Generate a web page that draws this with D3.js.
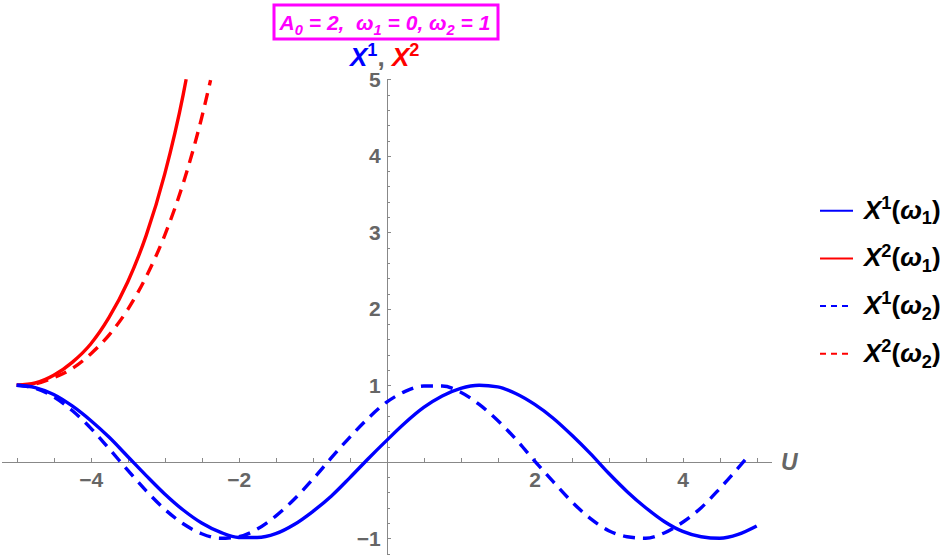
<!DOCTYPE html>
<meta charset="utf-8">
<title>X1, X2 vs U</title>
<style>

body {
  margin: 0;
  background: #fff;
  font-family: "Liberation Sans", Arial, sans-serif;
}

svg {
  display: block;
}

.axis path, .axis line {
  stroke: #888;
  shape-rendering: crispEdges;
}

.axis text {
  fill: #666;
  font-weight: bold;
  font-size: 21px;
  font-family: "Liberation Sans", Arial, sans-serif;
}

.rich {
  white-space: pre;
  font-weight: bold;
}

</style>

<body>
  <div id='graph'></div>
</body>

<script src="https://cdn.jsdelivr.net/npm/d3@7"></script>
<script>

// values
var x1w1U = [-5, -4.75, -4.5, -4.25, -4, -3.75, -3.5, -3.25, -3, -2.75, -2.5, -2.25, -2, -1.75, -1.5, -1.25, -1, -0.75, -0.5, -0.25, 0,
             0.25, 0.5, 0.75, 1, 1.25, 1.5, 1.75, 2, 2.25, 2.5, 2.75, 3, 3.25, 3.5, 3.75, 4, 4.25, 4.5, 4.75, 5];
var x1w1 = [1, 0.97, 0.88, 0.73, 0.54, 0.32, 0.07, -0.18, -0.42, -0.63, -0.8, -0.92, -0.99, -0.99, -0.94, -0.82, -0.65, -0.45, -0.21, 0.04, 0.28,
            0.51, 0.71, 0.86, 0.96, 1, 0.98, 0.89, 0.75, 0.57, 0.35, 0.11, -0.15, -0.39, -0.6, -0.78, -0.91, -0.98, -1, -0.95, -0.84];

var x1w2U = [-5, -4.75, -4.5, -4.25, -4, -3.75, -3.5, -3.25, -3, -2.75, -2.5, -2.25, -2, -1.75, -1.5, -1.25, -1, -0.75, -0.5, -0.25, 0,
             0.25, 0.5, 0.75, 1, 1.25, 1.5, 1.75, 2, 2.25, 2.5, 2.75, 3, 3.25, 3.5, 3.75, 4, 4.25, 4.5, 4.75, 4.9];
var x1w2 = [1, 0.96, 0.85, 0.67, 0.44, 0.17, -0.11, -0.38, -0.62, -0.81, -0.94, -1, -0.98, -0.88, -0.71, -0.49, -0.23, 0.05, 0.32, 0.57, 0.78,
            0.92, 0.99, 0.99, 0.91, 0.75, 0.54, 0.29, 0.01, -0.26, -0.52, -0.74, -0.9, -0.98, -1, -0.93, -0.79, -0.6, -0.35, -0.08, 0.09];

var x2w1U = [-5, -4.75, -4.5, -4.25, -4, -3.75, -3.5, -3.25, -3, -2.75, -2.71];
var x2w1 = [1, 1.03, 1.13, 1.3, 1.54, 1.89, 2.35, 2.96, 3.76, 4.8, 5];

var x2w2U = [-5, -4.75, -4.5, -4.25, -4, -3.75, -3.5, -3.25, -3, -2.75, -2.5, -2.38];
var x2w2 = [1, 1.02, 1.1, 1.22, 1.41, 1.66, 1.99, 2.42, 2.96, 3.64, 4.5, 4.99];

var xTickLabels = [-4, -2, 2, 4];
var yTickLabels = [-1, 1, 2, 3, 4, 5];

var legendNames = [
  {sup: '1', sub: '1', color: 'blue', dash: null},
  {sup: '2', sub: '1', color: 'red', dash: null},
  {sup: '1', sub: '2', color: 'blue', dash: '6 5'},
  {sup: '2', sub: '2', color: 'red', dash: '6 5'}
];

var width = 948, height = 556;

var svg = d3.select('#graph').append('svg')
  .attr('width', width)
  .attr('height', height);

var x = d3.scaleLinear().domain([-5.2, 5.2]).range([1.9, 771.5]),
    y = d3.scaleLinear().domain([-1.2, 5]).range([553.6, 79.3]);

var fmt = d3.format('d');

// minor ticks (no labels)
var xMinor = d3.range(-5, 5.01, 0.5).filter(function(d){ return Math.abs(d) > 1e-9 });
var yMinor = d3.range(-1.2, 5.01, 0.2).map(function(d){ return +d.toFixed(1) })
  .filter(function(d){ return Math.abs(d) > 1e-9 && d % 1 !== 0 });

svg.append('g').attr('class', 'axis')
  .attr('transform', 'translate(0,' + y(0) + ')')
  .call(d3.axisBottom(x).tickValues(xMinor).tickSize(-3.5).tickSizeOuter(0).tickFormat(''));

svg.append('g').attr('class', 'axis')
  .attr('transform', 'translate(0,' + y(0) + ')')
  .call(d3.axisBottom(x).tickValues(xTickLabels).tickSize(-3.5).tickSizeOuter(0).tickPadding(10).tickFormat(fmt))
  .call(function(g){ g.select('.domain').remove() });

svg.append('g').attr('class', 'axis')
  .attr('transform', 'translate(' + x(0) + ',0)')
  .call(d3.axisLeft(y).tickValues(yMinor).tickSize(-3).tickSizeOuter(0).tickFormat(''));

svg.append('g').attr('class', 'axis')
  .attr('transform', 'translate(' + x(0) + ',0)')
  .call(d3.axisLeft(y).tickValues(yTickLabels).tickSize(-4.5).tickSizeOuter(0).tickPadding(6).tickFormat(fmt))
  .call(function(g){ g.select('.domain').remove() });

// curves
svg.append('clipPath').attr('id', 'plot-clip')
  .append('rect')
  .attr('x', x(-5.2)).attr('y', y(5) - 2)
  .attr('width', x(5.2) - x(-5.2)).attr('height', y(-1.2) - y(5) + 2);

var line = d3.line()
  .x(function(d){ return x(d[0]) })
  .y(function(d){ return y(d[1]) })
  .curve(d3.curveMonotoneX);

var series = [
  {u: x2w1U, v: x2w1, color: 'red', dash: null},
  {u: x2w2U, v: x2w2, color: 'red', dash: '12 8'},
  {u: x1w2U, v: x1w2, color: 'blue', dash: '12 8'},
  {u: x1w1U, v: x1w1, color: 'blue', dash: null}
];

svg.append('g').attr('clip-path', 'url(#plot-clip)')
  .selectAll('path')
  .data(series)
  .join('path')
  .attr('d', function(s){ return line(s.u.map(function(u, i){ return [u, s.v[i]] })) })
  .attr('fill', 'none')
  .attr('stroke', function(s){ return s.color })
  .attr('stroke-width', 3.4)
  .attr('stroke-dasharray', function(s){ return s.dash });

// text with super/subscripts
function richText(sel, parts, size){
  var shift = 0;
  parts.forEach(function(p){
    var target = p.sup ? -0.38 * size : p.sub ? 0.22 * size : 0;
    sel.append('tspan')
      .attr('dy', target - shift)
      .attr('font-size', (p.sup || p.sub) ? size * 0.7 : size)
      .attr('font-style', p.i ? 'italic' : 'normal')
      .attr('fill', p.color || null)
      .text(p.t);
    shift = target;
  });
  if (shift) sel.append('tspan').attr('dy', -shift).text('');
}

// title box
svg.append('rect')
  .attr('x', 274).attr('y', 5)
  .attr('width', 224).attr('height', 34)
  .attr('fill', 'none')
  .attr('stroke', '#ff00ff')
  .attr('stroke-width', 3);

svg.append('text').attr('class', 'rich')
  .attr('x', 385).attr('y', 30)
  .attr('text-anchor', 'middle')
  .attr('fill', '#ff00ff')
  .call(richText, [
    {t: 'A', i: true}, {t: '0', sub: true, i: true}, {t: ' = 2,  ', i: true},
    {t: 'ω', i: true}, {t: '1', sub: true, i: true}, {t: ' = 0, ', i: true},
    {t: 'ω', i: true}, {t: '2', sub: true, i: true}, {t: ' = 1', i: true}
  ], 21);

// y axis label
svg.append('text').attr('class', 'rich')
  .attr('x', 350).attr('y', 66)
  .call(richText, [
    {t: 'X', i: true, color: 'blue'}, {t: '1', sup: true, color: 'blue'},
    {t: ',', color: '#666'},
    {t: ' X', i: true, color: 'red'}, {t: '2', sup: true, color: 'red'}
  ], 26);

// x axis label
svg.append('text')
  .attr('x', 781).attr('y', y(0) + 8)
  .attr('fill', '#666')
  .attr('font-size', 23)
  .attr('font-style', 'italic')
  .attr('font-weight', 'bold')
  .text('U');

// legend
var lg = svg.append('g')
  .selectAll('g')
  .data(legendNames)
  .join('g')
  .attr('transform', function(d, i){ return 'translate(820,' + (210.7 + i * 47.7) + ')' });

lg.append('line')
  .attr('x2', 33)
  .attr('stroke', function(d){ return d.color })
  .attr('stroke-width', 2)
  .attr('stroke-dasharray', function(d){ return d.dash });

lg.append('text').attr('class', 'rich')
  .attr('x', 44).attr('y', 8)
  .attr('fill', '#000')
  .each(function(d){
    d3.select(this).call(richText, [
      {t: 'X', i: true}, {t: d.sup, sup: true}, {t: '('},
      {t: 'ω', i: true}, {t: d.sub, sub: true}, {t: ')'}
    ], 26);
  });

</script>
